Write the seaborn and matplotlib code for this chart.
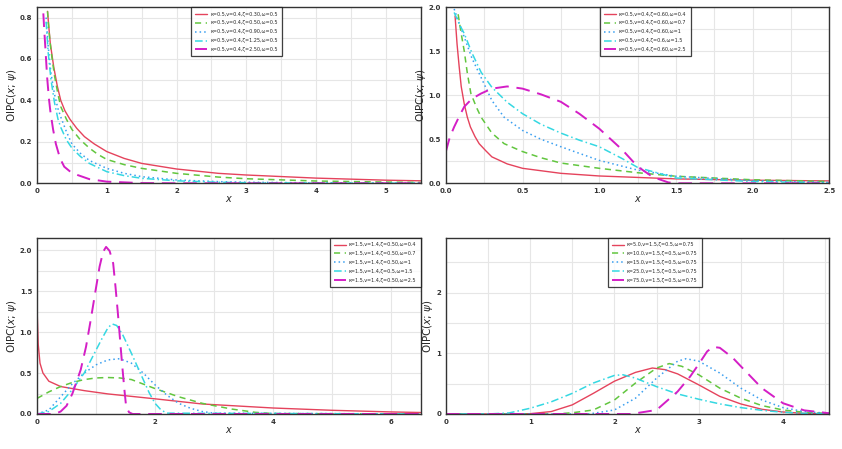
import numpy as np
import pandas as pd
import matplotlib
matplotlib.use("Agg")
import matplotlib.pyplot as plt
import seaborn as sns
from matplotlib.ticker import MultipleLocator, AutoMinorLocator

# ---- panel 1: varying zeta ----
p1_labels = ["κ=0.5,ν=0.4,ζ=0.30,ω=0.5", "κ=0.5,ν=0.4,ζ=0.50,ω=0.5", "κ=0.5,ν=0.4,ζ=0.90,ω=0.5",
             "κ=0.5,ν=0.4,ζ=1.25,ω=0.5", "κ=0.5,ν=0.4,ζ=2.50,ω=0.5"]
p1_x_red = [0.15, 0.17, 0.19, 0.24, 0.29, 0.34, 0.4, 0.47, 0.57, 0.68, 0.82, 1.0, 1.25, 1.5, 2.0, 2.6, 3.0, 4.0, 5.0, 5.5]
p1_y_red = [0.83, 0.75, 0.675, 0.56, 0.47, 0.40, 0.35, 0.31, 0.265, 0.225, 0.19, 0.153, 0.12, 0.096, 0.069, 0.048, 0.040, 0.025, 0.015, 0.012]
p1_x_green = [0.15, 0.17, 0.2, 0.25, 0.3, 0.34, 0.42, 0.5, 0.62, 0.75, 0.87, 1.0, 1.25, 1.5, 2.0, 2.6, 3.0, 4.0, 5.0, 5.5]
p1_y_green = [0.83, 0.74, 0.64, 0.52, 0.43, 0.37, 0.31, 0.26, 0.21, 0.17, 0.14, 0.115, 0.09, 0.072, 0.048, 0.030, 0.022, 0.011, 0.006, 0.004]
p1_x_blue = [0.13, 0.16, 0.2, 0.25, 0.3, 0.34, 0.42, 0.5, 0.62, 0.75, 1.0, 1.25, 1.5, 2.0, 2.6, 3.0, 4.0, 5.5]
p1_y_blue = [0.80, 0.66, 0.53, 0.43, 0.36, 0.32, 0.25, 0.19, 0.145, 0.11, 0.072, 0.048, 0.032, 0.016, 0.008, 0.005, 0.002, 0.001]
p1_x_cyan = [0.13, 0.16, 0.2, 0.25, 0.3, 0.34, 0.42, 0.5, 0.62, 0.75, 1.0, 1.25, 1.5, 2.0, 2.6, 3.0, 4.0, 5.5]
p1_y_cyan = [0.78, 0.63, 0.50, 0.39, 0.31, 0.27, 0.21, 0.17, 0.13, 0.096, 0.056, 0.037, 0.024, 0.012, 0.005, 0.003, 0.001, 0.0]
p1_x_mag = [0.09, 0.105, 0.12, 0.145, 0.17, 0.19, 0.23, 0.27, 0.33, 0.39, 0.48, 0.58, 0.75, 1.0, 1.5, 2.0, 5.5]
p1_y_mag = [0.82, 0.73, 0.65, 0.51, 0.41, 0.35, 0.26, 0.19, 0.12, 0.08, 0.055, 0.04, 0.02, 0.008, 0.001, 0.0, 0.0]

# ---- panel 2: varying omega ----
p2_labels = ["κ=0.5,ν=0.4,ζ=0.60,ω=0.4", "κ=0.5,ν=0.4,ζ=0.60,ω=0.7", "κ=0.5,ν=0.4,ζ=0.60,ω=1",
             "κ=0.5,ν=0.4,ζ=0.6,ω=1.5", "κ=0.5,ν=0.4,ζ=0.60,ω=2.5"]
p2_x_red = [0.06, 0.073, 0.087, 0.1, 0.12, 0.14, 0.16, 0.19, 0.217, 0.26, 0.3, 0.4, 0.5, 0.75, 1.0, 1.5, 2.0, 2.5]
p2_y_red = [1.9, 1.58, 1.32, 1.1, 0.9, 0.75, 0.64, 0.53, 0.45, 0.37, 0.30, 0.22, 0.17, 0.113, 0.083, 0.05, 0.035, 0.027]
p2_x_green = [0.08, 0.1, 0.12, 0.14, 0.163, 0.2, 0.23, 0.3, 0.38, 0.5, 0.62, 0.75, 1.0, 1.25, 1.5, 2.0, 2.5]
p2_y_green = [1.92, 1.7, 1.5, 1.25, 1.02, 0.86, 0.75, 0.57, 0.45, 0.36, 0.29, 0.23, 0.17, 0.12, 0.08, 0.04, 0.02]
p2_x_blue = [0.054, 0.09, 0.12, 0.17, 0.23, 0.3, 0.38, 0.5, 0.62, 0.75, 0.87, 1.0, 1.25, 1.5, 2.0, 2.5]
p2_y_blue = [1.98, 1.8, 1.66, 1.42, 1.2, 0.94, 0.75, 0.6, 0.5, 0.415, 0.34, 0.26, 0.15, 0.08, 0.03, 0.01]
p2_x_cyan = [0.054, 0.09, 0.12, 0.17, 0.23, 0.3, 0.4, 0.5, 0.62, 0.75, 0.87, 1.0, 1.15, 1.25, 1.5, 2.0, 2.5]
p2_y_cyan = [1.94, 1.8, 1.7, 1.48, 1.26, 1.09, 0.92, 0.79, 0.67, 0.57, 0.49, 0.415, 0.28, 0.18, 0.06, 0.02, 0.005]
p2_x_mag = [0.0, 0.025, 0.054, 0.09, 0.12, 0.17, 0.23, 0.3, 0.4, 0.5, 0.62, 0.75, 0.87, 1.0, 1.15, 1.25, 1.35, 1.45, 1.5, 2.5]
p2_y_mag = [0.36, 0.52, 0.64, 0.77, 0.87, 0.96, 1.02, 1.075, 1.10, 1.075, 1.01, 0.925, 0.79, 0.62, 0.38, 0.19, 0.07, 0.01, 0.0, 0.0]

# ---- panel 3: varying omega, kappa=1.5 ----
p3_labels = ["κ=1.5,ν=1.4,ζ=0.50,ω=0.4", "κ=1.5,ν=1.4,ζ=0.50,ω=0.7", "κ=1.5,ν=1.4,ζ=0.50,ω=1",
             "κ=1.5,ν=1.4,ζ=0.5,ω=1.5", "κ=1.5,ν=1.4,ζ=0.50,ω=2.5"]
p3_x_red = [0.0, 0.02, 0.05, 0.1, 0.2, 0.4, 0.8, 1.2, 2.0, 2.8, 4.0, 5.0, 6.0, 6.5]
p3_y_red = [1.29, 0.85, 0.62, 0.50, 0.40, 0.335, 0.285, 0.245, 0.185, 0.122, 0.073, 0.045, 0.025, 0.018]
p3_x_green = [0.0, 0.2, 0.4, 0.6, 0.8, 1.0, 1.2, 1.4, 1.6, 2.0, 2.4, 2.8, 3.3, 3.7, 4.0, 6.5]
p3_y_green = [0.19, 0.27, 0.335, 0.385, 0.42, 0.44, 0.445, 0.44, 0.42, 0.31, 0.21, 0.13, 0.06, 0.02, 0.005, 0.0]
p3_x_blue = [0.0, 0.2, 0.4, 0.6, 0.8, 1.0, 1.2, 1.4, 1.6, 1.8, 2.0, 2.2, 2.4, 2.6, 2.8, 3.0, 6.5]
p3_y_blue = [0.0, 0.05, 0.21, 0.37, 0.5, 0.6, 0.66, 0.675, 0.62, 0.5, 0.355, 0.23, 0.13, 0.07, 0.03, 0.01, 0.0]
p3_x_cyan = [0.0, 0.2, 0.4, 0.6, 0.8, 1.0, 1.1, 1.2, 1.27, 1.35, 1.45, 1.6, 1.7, 1.8, 1.9, 2.0, 2.1, 2.2, 6.5]
p3_y_cyan = [0.0, 0.03, 0.13, 0.3, 0.5, 0.78, 0.92, 1.05, 1.1, 1.08, 0.97, 0.74, 0.58, 0.42, 0.26, 0.13, 0.05, 0.01, 0.0]
p3_x_mag = [0.0, 0.3, 0.4, 0.5, 0.6, 0.74, 0.83, 0.91, 0.99, 1.06, 1.12, 1.17, 1.23, 1.29, 1.33, 1.37, 1.41, 1.44, 1.48, 1.51, 1.56, 1.62, 6.5]
p3_y_mag = [0.0, 0.0, 0.03, 0.1, 0.25, 0.54, 0.82, 1.15, 1.5, 1.8, 1.98, 2.04, 1.99, 1.84, 1.55, 1.23, 0.88, 0.62, 0.3, 0.09, 0.02, 0.0, 0.0]

# ---- panel 4: varying kappa ----
p4_labels = ["κ=5.0,ν=1.5,ζ=0.5,ω=0.75", "κ=10.0,ν=1.5,ζ=0.5,ω=0.75", "κ=15.0,ν=1.5,ζ=0.5,ω=0.75",
             "κ=25.0,ν=1.5,ζ=0.5,ω=0.75", "κ=75.0,ν=1.5,ζ=0.5,ω=0.75"]
p4_x_red = [0.0, 0.8, 1.0, 1.25, 1.5, 1.75, 2.0, 2.25, 2.45, 2.6, 2.75, 3.0, 3.25, 3.5, 3.75, 4.0, 4.25, 4.55]
p4_y_red = [0.0, 0.0, 0.005, 0.04, 0.15, 0.34, 0.54, 0.685, 0.757, 0.73, 0.66, 0.48, 0.29, 0.165, 0.077, 0.033, 0.01, 0.003]
p4_x_green = [0.0, 1.3, 1.5, 1.75, 2.0, 2.25, 2.5, 2.65, 2.8, 3.0, 3.25, 3.5, 3.75, 4.0, 4.25, 4.55]
p4_y_green = [0.0, 0.0, 0.02, 0.066, 0.23, 0.51, 0.757, 0.83, 0.785, 0.646, 0.425, 0.26, 0.138, 0.066, 0.028, 0.008]
p4_x_blue = [0.0, 1.7, 2.0, 2.25, 2.5, 2.75, 2.85, 3.0, 3.25, 3.5, 3.75, 4.0, 4.25, 4.55]
p4_y_blue = [0.0, 0.0, 0.066, 0.26, 0.59, 0.87, 0.91, 0.87, 0.674, 0.425, 0.23, 0.105, 0.04, 0.01]
p4_x_cyan = [0.0, 0.5, 0.75, 1.0, 1.25, 1.5, 1.75, 2.0, 2.1, 2.25, 2.5, 2.75, 3.0, 3.25, 3.5, 3.75, 4.0, 4.25, 4.55]
p4_y_cyan = [0.0, 0.0, 0.017, 0.094, 0.2, 0.34, 0.51, 0.635, 0.646, 0.59, 0.45, 0.33, 0.243, 0.166, 0.105, 0.06, 0.028, 0.01, 0.002]
p4_x_mag = [0.0, 2.2, 2.5, 2.75, 2.9, 3.0, 3.1, 3.17, 3.25, 3.4, 3.5, 3.75, 4.0, 4.25, 4.55]
p4_y_mag = [0.0, 0.0, 0.066, 0.37, 0.62, 0.82, 1.03, 1.105, 1.09, 0.93, 0.785, 0.425, 0.177, 0.06, 0.012]

colors = ["#e5435c", "#62c63f", "#3a9ff0", "#35d8e2", "#d41ec6"]
styles = ["-", (0, (4, 3)), (0, (1, 2)), (0, (5, 2, 1, 2)), (0, (7, 4))]
widths = [1.0, 1.1, 1.1, 1.1, 1.4]

# (labels, curves, xlim, ylim, x tick step, y tick step, legend loc, legend anchor)
panels = [
    (p1_labels, [(p1_x_red, p1_y_red), (p1_x_green, p1_y_green), (p1_x_blue, p1_y_blue),
                 (p1_x_cyan, p1_y_cyan), (p1_x_mag, p1_y_mag)],
     (0, 5.5), (0, 0.85), 1, 0.2, "upper center", (0.52, 1.0)),
    (p2_labels, [(p2_x_red, p2_y_red), (p2_x_green, p2_y_green), (p2_x_blue, p2_y_blue),
                 (p2_x_cyan, p2_y_cyan), (p2_x_mag, p2_y_mag)],
     (0, 2.5), (0, 2.0), 0.5, 0.5, "upper center", (0.52, 1.0)),
    (p3_labels, [(p3_x_red, p3_y_red), (p3_x_green, p3_y_green), (p3_x_blue, p3_y_blue),
                 (p3_x_cyan, p3_y_cyan), (p3_x_mag, p3_y_mag)],
     (0, 6.5), (0, 2.15), 2, 0.5, "upper right", (1.0, 1.0)),
    (p4_labels, [(p4_x_red, p4_y_red), (p4_x_green, p4_y_green), (p4_x_blue, p4_y_blue),
                 (p4_x_cyan, p4_y_cyan), (p4_x_mag, p4_y_mag)],
     (0, 4.55), (0, 2.9), 1, 1, "upper center", (0.545, 1.0)),
]

sns.set_style("white")
plt.rcParams['font.family'] = ['DejaVu Sans']

fig, axes = plt.subplots(2, 2, figsize=(8.42, 4.49), dpi=100)
plt.subplots_adjust(left=0.044, right=0.985, top=0.984, bottom=0.078, wspace=0.066, hspace=0.31)

for ax, (labels, series, xlim, ylim, xstep, ystep, loc, anchor) in zip(axes.flat, panels):
    for i, (xs, ys) in enumerate(series):
        df = pd.DataFrame({"x": xs, "y": ys})
        sns.lineplot(data=df, x="x", y="y", ax=ax, color=colors[i], linestyle=styles[i],
                     linewidth=widths[i], label=labels[i])
    ax.set_xlim(*xlim)
    ax.set_ylim(*ylim)
    ax.xaxis.set_major_locator(MultipleLocator(xstep))
    ax.yaxis.set_major_locator(MultipleLocator(ystep))
    ax.xaxis.set_minor_locator(AutoMinorLocator(2))
    ax.yaxis.set_minor_locator(AutoMinorLocator(2))
    ax.grid(True, which="both", color="#e6e6e6", linewidth=0.8)
    ax.set_axisbelow(True)
    ax.tick_params(axis="both", which="major", labelsize=5, length=2, width=0.6,
                   colors="#333333", pad=1.5)
    ax.tick_params(axis="both", which="minor", length=0)
    for lbl in ax.get_xticklabels() + ax.get_yticklabels():
        lbl.set_fontweight("bold")
    for s in ax.spines.values():
        s.set_color("#333333")
        s.set_linewidth(1.0)
    ax.set_xlabel(r"$x$", fontsize=7, labelpad=0)
    ax.set_ylabel(r"OIPC($x$; $\psi$)", fontsize=7.5, labelpad=0.5)
    leg = ax.legend(loc=loc, bbox_to_anchor=anchor, fontsize=3.5, frameon=True, fancybox=False,
                    handlelength=2.4, borderaxespad=0, labelspacing=0.8,
                    borderpad=0.9, handletextpad=0.6)
    leg.get_frame().set_edgecolor("#111111")
    leg.get_frame().set_linewidth(0.9)

fig.savefig("out.png", dpi=100)
